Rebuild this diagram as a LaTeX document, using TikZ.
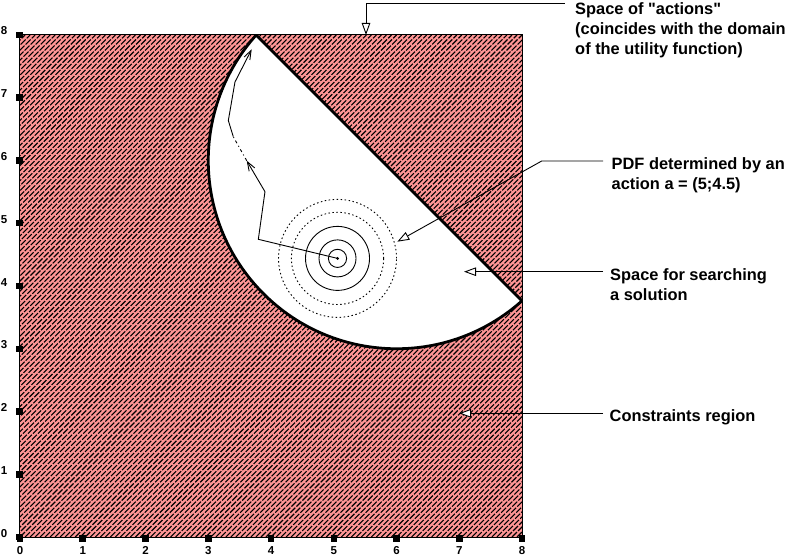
\documentclass[tikz,border=0pt]{standalone}
\usepackage{fontspec}
\setmainfont{Liberation Sans}[Ligatures=TeXOff]
\usetikzlibrary{arrows.meta}
\definecolor{hatchpink}{RGB}{255,150,150}
\begin{document}
\begin{tikzpicture}[x=62.75pt,y=62.75pt,
  lbl/.style={font=\fontsize{16.4}{20}\selectfont\bfseries, anchor=base west, align=left, inner sep=0pt},
  axlbl/.style={font=\fontsize{11.5}{13}\selectfont\bfseries, anchor=base, inner sep=0pt},
  tickbox/.style={fill=black, minimum size=6.5pt, inner sep=0pt, draw=none},
  leader/.style={draw=black, line width=0.9pt, -{Triangle[fill=white, length=12pt, width=8.5pt, line width=0.9pt]}},
  hatchline/.style={line width=1.1pt, dash pattern=on 7pt off 1.6pt},
  traj/.style={line width=0.9pt},
  trajarrow/.style={traj, -{Straight Barb[length=9pt, width=6.5pt, line width=0.9pt]}},
  solidring/.style={line width=0.9pt},
  dotring/.style={line width=0.9pt, dash pattern=on 1.5pt off 2.5pt},
  outline/.style={line width=2.8pt, line join=round}
]
\useasboundingbox (-0.3187,-0.2869) rectangle (12.3665,8.5578);

% constraints region: pink with black hatching
\fill[hatchpink] (0,0) rectangle (8,8);
\begin{scope}
  \clip (0,0) rectangle (8,8);
  \foreach \k in {-8.00,-7.92,...,8.01} {
    \draw[hatchline] (\k,0) -- ++(8,8);
  }
\end{scope}

% space for searching a solution
\fill[white] (8,3.7639) arc[start angle=-48.19, end angle=-221.81, radius=3] -- cycle;
\begin{scope}
  \clip (0,0) rectangle (8,8);
  \draw[outline] (8,3.7639) arc[start angle=-48.19, end angle=-221.81, radius=3] -- cycle;
\end{scope}
\draw[line width=1pt] (0,0) rectangle (8,8);

% ticks and axis labels
\foreach \i in {0,...,8} {
  \node[tickbox] (tx\i) at (\i,-0.02) {};
  \node[tickbox] (ty\i) at (-0.01,\i) {};
  \node[axlbl] (lx\i) at (\i,-0.271) {\i};
  \node[axlbl] (ly\i) at (-0.255,\i) {\i};
}

% PDF rings
\coordinate (act) at (5.06,4.44);
\fill (act) circle[radius=1.6pt];
\draw[solidring] (act) circle[radius=0.145];
\draw[solidring] (act) circle[radius=0.295];
\draw[solidring] (act) circle[radius=0.51];
\draw[dotring] (act) circle[radius=0.735];
\draw[dotring] (act) circle[radius=0.94];

% search trajectory
\coordinate (p1) at (3.798,4.744);
\coordinate (p2) at (3.904,5.503);
\coordinate (p3) at (3.613,5.997);
\coordinate (p4) at (3.399,6.379);
\coordinate (p5) at (3.320,6.637);
\coordinate (p6) at (3.426,7.251);
\coordinate (p7) at (3.692,7.772);
\draw[trajarrow] (act) -- (p1) -- (p2) -- (p3);
\draw[traj, dash pattern=on 3pt off 3pt on 1pt off 3pt] (p3) -- (p4);
\draw[trajarrow] (p4) -- (p5) -- (p6) -- (p7);

% labels (anchor base = last line)
\node[lbl] (lact) at (8.845,7.682) {Space of "actions"\\(coincides with the domain\\of the utility function)};
\node[lbl] (lpdf) at (9.426,5.530) {PDF determined by an\\action a = (5;4.5)};
\node[lbl] (lsrch) at (9.402,3.761) {Space for searching\\a solution};
\node[lbl] (lcon) at (9.394,1.833) {Constraints region};

% leaders
\coordinate (actstart) at (8.685,8.510);
\coordinate (acttip) at (5.514,8.0);
\draw[leader] (actstart) -| (acttip);

\coordinate (pdfstart) at (9.291,5.992);
\coordinate (pdfbend) at (8.314,5.992);
\coordinate (pdftip) at (6.013,4.706);
\draw[leader] (pdfstart) -- (pdfbend) -- (pdftip);

\coordinate (srchstart) at (9.291,4.228);
\coordinate (srchtip) at (7.076,4.228);
\draw[leader] (srchstart) -- (srchtip);

\coordinate (constart) at (9.291,1.971);
\coordinate (contip) at (6.996,1.971);
\draw[leader] (constart) -- (contip);
\end{tikzpicture}
\end{document}
